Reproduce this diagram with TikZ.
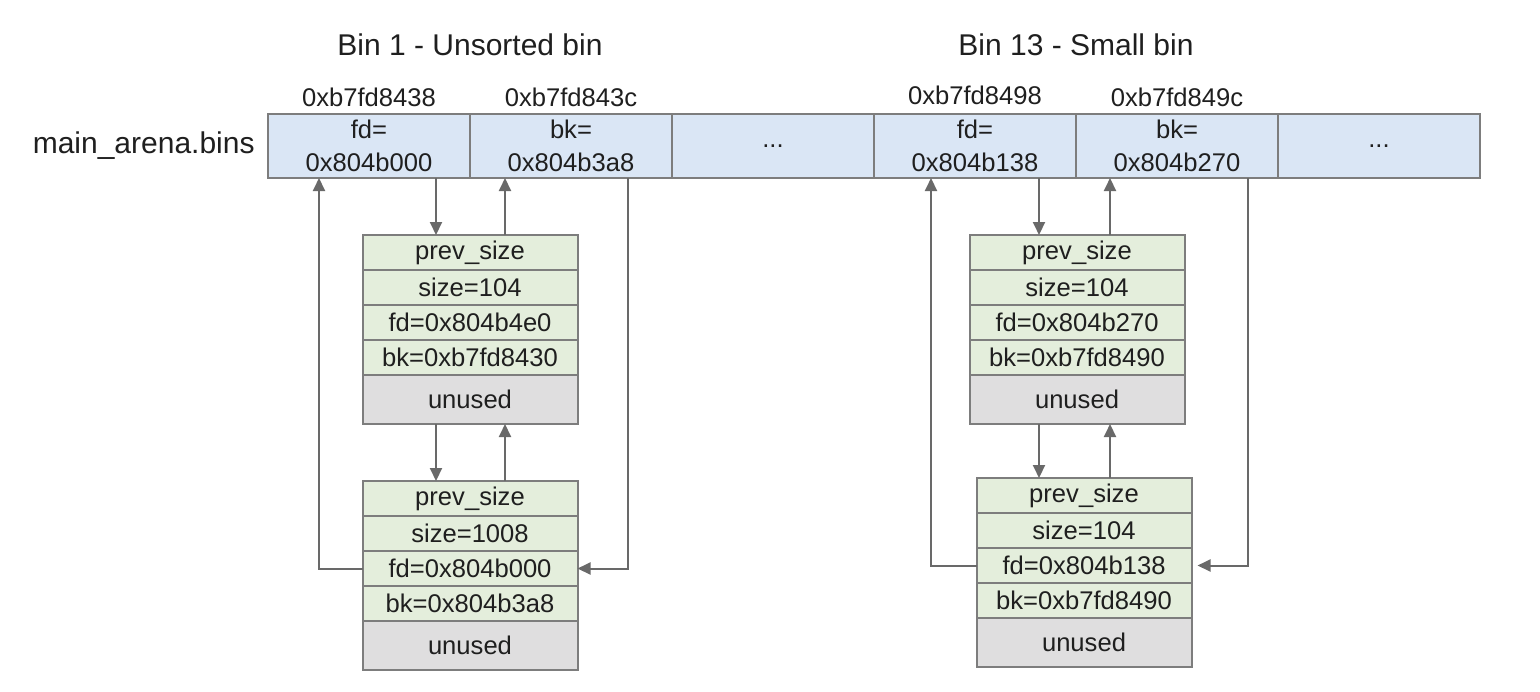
\documentclass[tikz,border=0pt]{standalone}
\usepackage{fontspec}
\setmainfont{Liberation Sans}
\usetikzlibrary{arrows.meta, positioning}

\definecolor{binblue}{RGB}{218,230,245}
\definecolor{chunkgreen}{RGB}{228,238,220}
\definecolor{unusedgray}{RGB}{223,222,223}
\definecolor{edgegray}{RGB}{125,125,125}
\definecolor{linkgray}{RGB}{105,105,105}

\begin{document}
\begin{tikzpicture}[
    x=0.5pt, y=-0.5pt, text=black!88,
    bin/.style={draw=edgegray, fill=binblue, line width=1pt, align=center,
    minimum width=101pt, minimum height=32pt, inner sep=0pt, outer sep=0pt,
    font=\fontsize{12.8}{16.5}\selectfont},
    field/.style={draw=edgegray, fill=chunkgreen, line width=1pt, text centered,
    minimum width=107.5pt, minimum height=17.5pt, inner sep=0pt, outer sep=0pt,
    font=\fontsize{12.8}{15}\selectfont},
    unused/.style={field, fill=unusedgray, minimum height=24.5pt},
    addr/.style={inner sep=0pt, font=\fontsize{12.8}{15}\selectfont},
    title/.style={inner sep=0pt, font=\fontsize{15}{18}\selectfont},
    link/.style={draw=linkgray, line width=1pt, -{Triangle[width=6pt,length=6.5pt]}}
    ]
    \useasboundingbox (0,0) rectangle (1540,691);

    \node[bin]    (b1)  at (369,146)                {fd=\\0x804b000};
    \node[bin]    (b2)  [right=0pt of b1]           {bk=\\0x804b3a8};
    \node[bin]    (b3)  [right=0pt of b2]           {...};
    \node[bin]    (b4)  [right=0pt of b3]           {fd=\\0x804b138};
    \node[bin]    (b5)  [right=0pt of b4]           {bk=\\0x804b270};
    \node[bin]    (b6)  [right=0pt of b5]           {...};

    \node[addr]   (a1)  [above=3.5pt of b1]         {0xb7fd8438};
    \node[addr]   (a2)  [above=3.5pt of b2]         {0xb7fd843c};
    \node[addr]   (a4)  [above=4.5pt of b4]         {0xb7fd8498};
    \node[addr]   (a5)  [above=3.5pt of b5]         {0xb7fd849c};

    \node[title]  (t1)  [above=29pt of b1.north east]  {Bin 1 - Unsorted bin};
    \node[title]  (t2)  [above=29pt of b4.north east]  {Bin 13 - Small bin};
    \node[title]  (lbl) [left=6.5pt of b1]          {main\_arena.bins};

    \node[field]  (p1)  [below=28.5pt of b1.south east]  {prev\_size};
    \node[field]  (s1)  [below=0pt of p1]           {size=104};
    \node[field]  (f1)  [below=0pt of s1]           {fd=0x804b4e0};
    \node[field]  (k1)  [below=0pt of f1]           {bk=0xb7fd8430};
    \node[unused] (u1)  [below=0pt of k1]           {unused};

    \node[field]  (p2)  [below=28.5pt of u1]        {prev\_size};
    \node[field]  (s2)  [below=0pt of p2]           {size=1008};
    \node[field]  (f2)  [below=0pt of s2]           {fd=0x804b000};
    \node[field]  (k2)  [below=0pt of f2]           {bk=0x804b3a8};
    \node[unused] (u2)  [below=0pt of k2]           {unused};

    \node[field]  (p3)  [below=28.5pt of b4.south east, xshift=0.5pt]  {prev\_size};
    \node[field]  (s3)  [below=0pt of p3]           {size=104};
    \node[field]  (f3)  [below=0pt of s3]           {fd=0x804b270};
    \node[field]  (k3)  [below=0pt of f3]           {bk=0xb7fd8490};
    \node[unused] (u3)  [below=0pt of k3]           {unused};

    \node[field]  (p4)  [below=27pt of u3, xshift=3.5pt]  {prev\_size};
    \node[field]  (s4)  [below=0pt of p4]           {size=104};
    \node[field]  (f4)  [below=0pt of s4]           {fd=0x804b138};
    \node[field]  (k4)  [below=0pt of f4]           {bk=0xb7fd8490};
    \node[unused] (u4)  [below=0pt of k4]           {unused};

    \draw[link] ([xshift=-17pt]b1.south east) -- ([xshift=-17pt]p1.north);
    \draw[link] ([xshift=17.5pt]p1.north) -- ([xshift=17.5pt]b2.south west);
    \draw[link] ([xshift=-17pt]u1.south) -- ([xshift=-17pt]p2.north);
    \draw[link] ([xshift=17.5pt]p2.north) -- ([xshift=17.5pt]u1.south);
    \draw[link] (f2.west) -| ([xshift=25.5pt]b1.south west);
    \draw[link] ([xshift=-22pt]b2.south east) |- (f2.east);

    \draw[link] ([xshift=-18.5pt]b4.south east) -- ([xshift=-19pt]p3.north);
    \draw[link] ([xshift=16.5pt]p3.north) -- ([xshift=17pt]b5.south west);
    \draw[link] ([xshift=-19pt]u3.south) -- ([xshift=-22.5pt]p4.north);
    \draw[link] ([xshift=13pt]p4.north) -- ([xshift=16.5pt]u3.south);
    \draw[link] (f4.west) -| ([xshift=28.5pt]b4.south west);
    \draw[link] ([xshift=-15pt]b5.south east) |- ([xshift=3pt]f4.east);
\end{tikzpicture}
\end{document}
